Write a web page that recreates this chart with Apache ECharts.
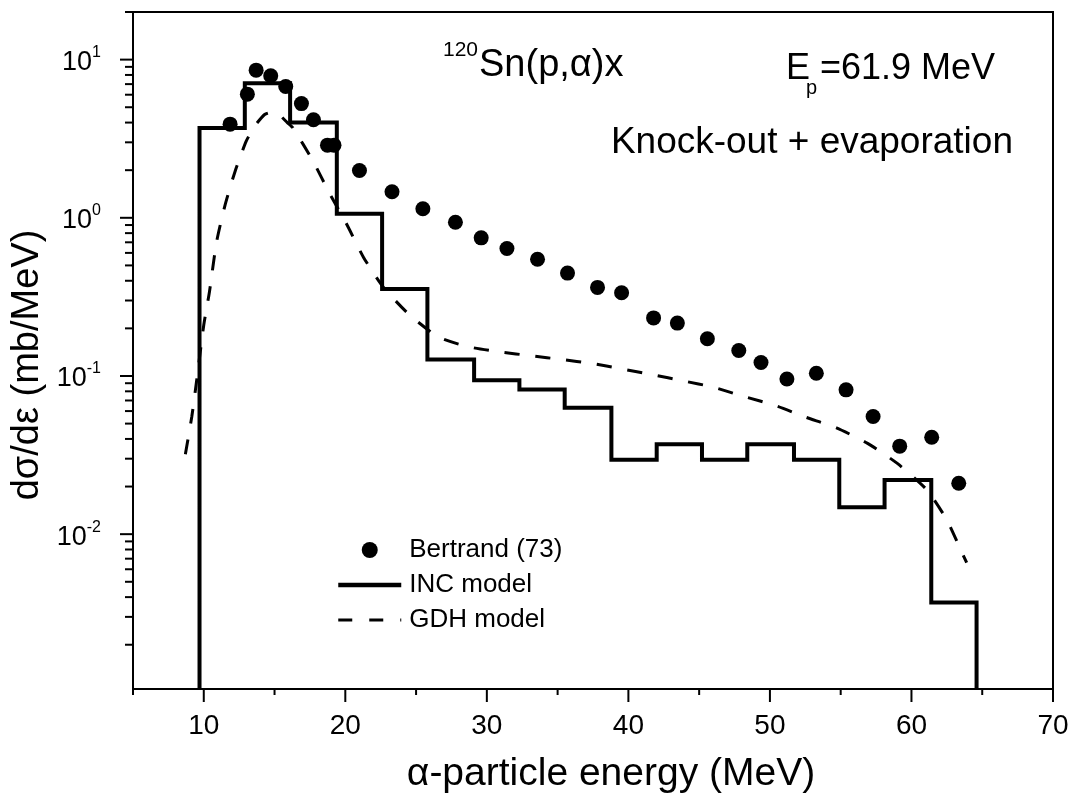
<!DOCTYPE html>
<html><head><meta charset="utf-8">
<script src="https://cdn.jsdelivr.net/npm/echarts@6/dist/echarts.min.js"></script>
<style>html,body{margin:0;padding:0;background:#fff}#c{width:1079px;height:796px}</style>
</head><body><div id="c"></div>
<script>
// ---- data ----
const binEdges  = [9.7, 12.9, 16.1, 19.4, 22.6, 25.8, 29.1, 32.3, 35.5, 38.8, 42.0, 45.2, 48.4, 51.7, 54.9, 58.1, 61.4, 64.6];
const incValues = [3.7, 7.1, 4.0, 1.06, 0.355, 0.127, 0.094, 0.082, 0.063, 0.0295, 0.037, 0.0295, 0.037, 0.0295, 0.0148, 0.022, 0.0037];

const bertrandX = [11.86, 13.08, 13.70, 14.73, 15.79, 16.9, 17.75, 18.74, 19.2, 21.0, 23.3, 25.48, 27.78, 29.6, 31.42, 33.58, 35.7, 37.82, 39.52, 41.78, 43.46, 45.58, 47.8, 49.37, 51.2, 53.28, 55.38, 57.29, 59.17, 61.43, 63.34];
const bertrandY = [3.91, 6.05, 8.58, 7.9, 6.76, 5.27, 4.17, 2.88, 2.88, 1.99, 1.46, 1.14, 0.937, 0.747, 0.64, 0.547, 0.447, 0.363, 0.336, 0.233, 0.216, 0.172, 0.145, 0.1217, 0.0957, 0.104, 0.0817, 0.0554, 0.036, 0.041, 0.021];

const gdhX = [8.7, 9.15, 9.5, 10.0, 10.4, 10.9, 11.5, 12.2, 13.0, 13.6, 14.3, 14.8, 15.3, 15.9, 16.3, 17.7, 18.9, 20.1, 21.3, 22.7, 24.5, 26.6, 28.7, 30.9, 33.2, 35.3, 37.4, 39.5, 41.7, 43.9, 46.0, 48.2, 50.4, 52.5, 54.7, 56.9, 59.0, 61.1, 62.5, 63.5, 63.9];
const gdhY = [0.032, 0.055, 0.094, 0.21, 0.34, 0.7, 1.2, 1.95, 3.05, 3.8, 4.5, 4.65, 4.5, 4.0, 3.7, 2.3, 1.42, 0.91, 0.56, 0.363, 0.245, 0.176, 0.153, 0.142, 0.134, 0.127, 0.12, 0.111, 0.102, 0.093, 0.085, 0.074, 0.065, 0.055, 0.047, 0.0375, 0.028, 0.019, 0.0123, 0.0079, 0.0066];

const xMajorTicks = [10, 20, 30, 40, 50, 60, 70];
const xMinorTicks = [5, 15, 25, 35, 45, 55, 65];
const yMajorTicks = [0.01, 0.1, 1, 10];
const yMinorMantissas = [2, 3, 4, 5, 6, 7, 8, 9];
const yDecades = [0.001, 0.01, 0.1, 1, 10];

const X_MIN = 5, X_MAX = 70, Y_MIN = 0.00105, Y_MAX = 20;
const FONT = '"Liberation Sans", Arial, sans-serif';

// ---- build series data ----
const incData = [[binEdges[0], Y_MIN]];
for (let i = 0; i < incValues.length; i++) {
  incData.push([binEdges[i], incValues[i]]);
  incData.push([binEdges[i + 1], incValues[i]]);
}
incData.push([binEdges[binEdges.length - 1], Y_MIN]);

const bertrandData = bertrandX.map((x, i) => [x, bertrandY[i]]);
const gdhData = gdhX.map((x, i) => [x, gdhY[i]]);

const tickData = [];
xMajorTicks.forEach(v => tickData.push([v, Y_MIN, 13, 0]));
xMinorTicks.forEach(v => tickData.push([v, Y_MIN, 6, 0]));
yMajorTicks.forEach(v => tickData.push([X_MIN, v, 13, 1]));
yDecades.forEach(d => yMinorMantissas.forEach(m => {
  const v = m * d;
  if (v > Y_MIN && v <= Y_MAX * 1.0001) tickData.push([X_MIN, v, 8, 1]);
}));

const hidden = {color: 'rgba(0,0,0,0)', borderColor: 'rgba(0,0,0,0)', borderWidth: 0};

const chart = echarts.init(document.getElementById('c'), null, {renderer: 'canvas'});
chart.setOption({
  animation: false,
  backgroundColor: '#fff',
  grid: {left: 133, right: 26, top: 12, bottom: 107, show: true, borderColor: '#000', borderWidth: 2, backgroundColor: 'transparent'},
  xAxis: {
    type: 'value', min: X_MIN, max: X_MAX, interval: 5,
    axisLine: {lineStyle: {color: '#000', width: 2}},
    axisTick: {show: false},
    splitLine: {show: false},
    axisLabel: {
      margin: 23, color: '#000', fontSize: 28, fontFamily: FONT,
      formatter: v => (xMajorTicks.indexOf(v) >= 0 ? String(v) : '')
    }
  },
  yAxis: {
    type: 'log', logBase: 10, min: Y_MIN, max: Y_MAX,
    axisLine: {lineStyle: {color: '#000', width: 2}},
    axisTick: {show: false},
    splitLine: {show: false},
    minorTick: {show: false},
    axisLabel: {
      margin: 32, color: '#000', fontFamily: FONT, fontSize: 26,
      formatter: v => {
        const e = Math.log10(v);
        const r = Math.round(e);
        if (Math.abs(e - r) > 1e-6) return '';
        return '{b|10}{s|' + r + '}';
      },
      rich: {
        b: {fontSize: 27, fontFamily: FONT, color: '#000', lineHeight: 30, padding: [6, 0, 0, 0]},
        s: {fontSize: 16, fontFamily: FONT, color: '#000', verticalAlign: 'top', lineHeight: 16}
      }
    }
  },
  legend: {
    data: [
      {name: 'Bertrand (73)'},
      {name: 'INC model', itemStyle: hidden, lineStyle: {color: '#000', width: 4.5, type: 'solid'}},
      {name: 'GDH model', itemStyle: hidden, lineStyle: {color: '#000', width: 3, type: [14, 17]}}
    ],
    orient: 'vertical', left: 336, top: 537, padding: 0,
    itemWidth: 63, itemHeight: 16, itemGap: 9,
    selectedMode: false,
    textStyle: {fontSize: 26, fontFamily: FONT, color: '#000', padding: [0, 0, 0, 3]}
  },
  graphic: [
    {type: 'text', x: 443, y: 50, style: {text: '120', font: '21px ' + FONT, fill: '#000', verticalAlign: 'middle', align: 'left'}},
    {type: 'text', x: 479, y: 66, style: {text: 'Sn(p,α)x', font: '38px ' + FONT, fill: '#000', verticalAlign: 'middle', align: 'left'}},
    {type: 'text', x: 786, y: 69.5, style: {text: 'E', font: '36px ' + FONT, fill: '#000', verticalAlign: 'middle', align: 'left'}},
    {type: 'text', x: 806, y: 88, style: {text: 'p', font: '20px ' + FONT, fill: '#000', verticalAlign: 'middle', align: 'left'}},
    {type: 'text', x: 820, y: 69.5, style: {text: '=61.9 MeV', font: '36px ' + FONT, fill: '#000', verticalAlign: 'middle', align: 'left'}},
    {type: 'text', x: 1013, y: 143, style: {text: 'Knock-out + evaporation', font: '37px ' + FONT, fill: '#000', verticalAlign: 'middle', align: 'right'}},
    {type: 'text', x: 611, y: 774, style: {text: 'α-particle energy (MeV)', font: '39px ' + FONT, fill: '#000', verticalAlign: 'middle', align: 'center'}},
    {type: 'text', x: 28, y: 365, rotation: Math.PI / 2, style: {text: 'dσ/dε (mb/MeV)', font: '38px ' + FONT, fill: '#000', verticalAlign: 'middle', align: 'center'}}
  ],
  series: [
    {
      name: 'Bertrand (73)', type: 'scatter', data: bertrandData,
      symbol: 'circle', symbolSize: 15, itemStyle: {color: '#000', opacity: 1}, z: 5
    },
    {
      name: 'INC model', type: 'line', data: incData, symbol: 'none', showSymbol: false,
      lineStyle: {color: '#000', width: 4, join: 'miter'}, itemStyle: {color: '#000'}, z: 4
    },
    {
      name: 'GDH model', type: 'line', data: gdhData, symbol: 'none', showSymbol: false, smooth: 0.2,
      lineStyle: {color: '#000', width: 3, type: [15, 16]}, itemStyle: {color: '#000'}, z: 3
    },
    {
      name: 'ticks', type: 'custom', data: tickData, clip: false, silent: true, z: 6,
      encode: {x: 0, y: 1},
      renderItem: (params, api) => {
        const p = api.coord([api.value(0), api.value(1)]);
        const len = api.value(2);
        const o = api.value(3);
        const shape = o === 0
          ? {x1: p[0], y1: p[1], x2: p[0], y2: p[1] + len}
          : {x1: p[0] - len, y1: p[1], x2: p[0], y2: p[1]};
        return {type: 'line', shape: shape, style: {stroke: '#000', lineWidth: 2}};
      }
    }
  ]
});
</script>
</body></html>
